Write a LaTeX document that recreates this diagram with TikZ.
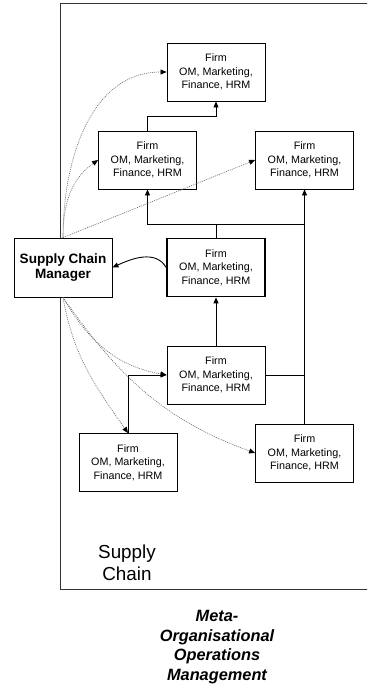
\documentclass[tikz,border=0pt]{standalone}
\usepackage{fontspec}
\setmainfont{Liberation Sans}
\usetikzlibrary{arrows.meta}
\begin{document}
\begin{tikzpicture}[x=1bp,y=1bp,
  firm/.style={draw, fill=white, line width=0.9bp, minimum width=98bp, minimum height=58bp,
    inner sep=0pt, align=center, font=\fontsize{10.8}{13.5}\selectfont},
  keyfirm/.style={firm, line width=1.7bp},
  mgr/.style={draw, fill=white, line width=0.9bp, minimum width=98bp, minimum height=59bp,
    inner sep=0pt, align=center, font=\bfseries\fontsize{13.6}{16}\selectfont},
  tip/.style={-{Triangle[length=6bp,width=5bp,color=black]}},
  flow/.style={line width=0.9bp, tip},
  link/.style={line width=0.9bp},
  info/.style={black!60, line width=0.6bp, dash pattern=on 1bp off 1bp, tip},
]
\useasboundingbox (0,0) rectangle (367,-688);
\clip (0,0) rectangle (367,-688);

% supply chain boundary (open to the right)
\draw[black!80, line width=1bp] (60,-4) rectangle (400,-589);

% firms and the manager
\node[firm] (ftop) at (216,-72) {Firm\\OM, Marketing,\\Finance, HRM};
\node[firm] (fleft) at (147.5,-160) {Firm\\OM, Marketing,\\Finance, HRM};
\node[firm] (fright) at (304.5,-160) {Firm\\OM, Marketing,\\Finance, HRM};
\node[keyfirm] (fmid) at (216,-267.5) {Firm\\OM, Marketing,\\Finance, HRM};
\node[mgr] (scm) at (63,-267.5) {Supply Chain\\Manager};
\node[firm] (flow) at (216,-375) {Firm\\OM, Marketing,\\Finance, HRM};
\node[firm] (fll) at (128,-462.5) {Firm\\OM, Marketing,\\Finance, HRM};
\node[firm] (flr) at (304.5,-453) {Firm\\OM, Marketing,\\Finance, HRM};

% captions
\node[font=\fontsize{18.9}{22}\selectfont, align=center] (sc) at (127,-563) {Supply\\Chain};
\node[font=\bfseries\itshape\fontsize{16.4}{19.7}\selectfont, align=center] (mom) at (217,-647)
  {Meta-\\Organisational\\Operations\\Management};

% material flows between firms
\coordinate (j1) at (147.5,-116);
\draw[flow] (fleft.north) -- (j1) -| (ftop.south);
\coordinate (j2) at (216,-224);
\draw[link] (fmid.north) -- (j2);
\draw[flow] (j2) -| (fleft.south);
\draw[link] (j2) -- (j2 -| fright.south);
\draw[flow] (flr.north) -- (fright.south);
\draw[flow] (flow.north) -- (fmid.south);
\draw[link] (flow.east) -- (flow.east -| flr.north);
\draw[flow] (fll.north) |- (flow.west);
\draw[flow] (fmid.west) to[out=120, in=25] (scm.east);

% coordination links from the manager
\draw[info] (scm.north) to[out=90, in=180] (ftop.west);
\draw[info] (scm.north) to[out=90, in=215] (fleft.west);
\draw[info] (scm.north) -- (fright.west);
\draw[info] (scm.south) to[out=-80, in=125] (fll.north);
\draw[info] (scm.south) to[out=-60, in=170] (flow.west);
\draw[info] (scm.south) to[out=-55, in=160] (flr.west);
\end{tikzpicture}
\end{document}
